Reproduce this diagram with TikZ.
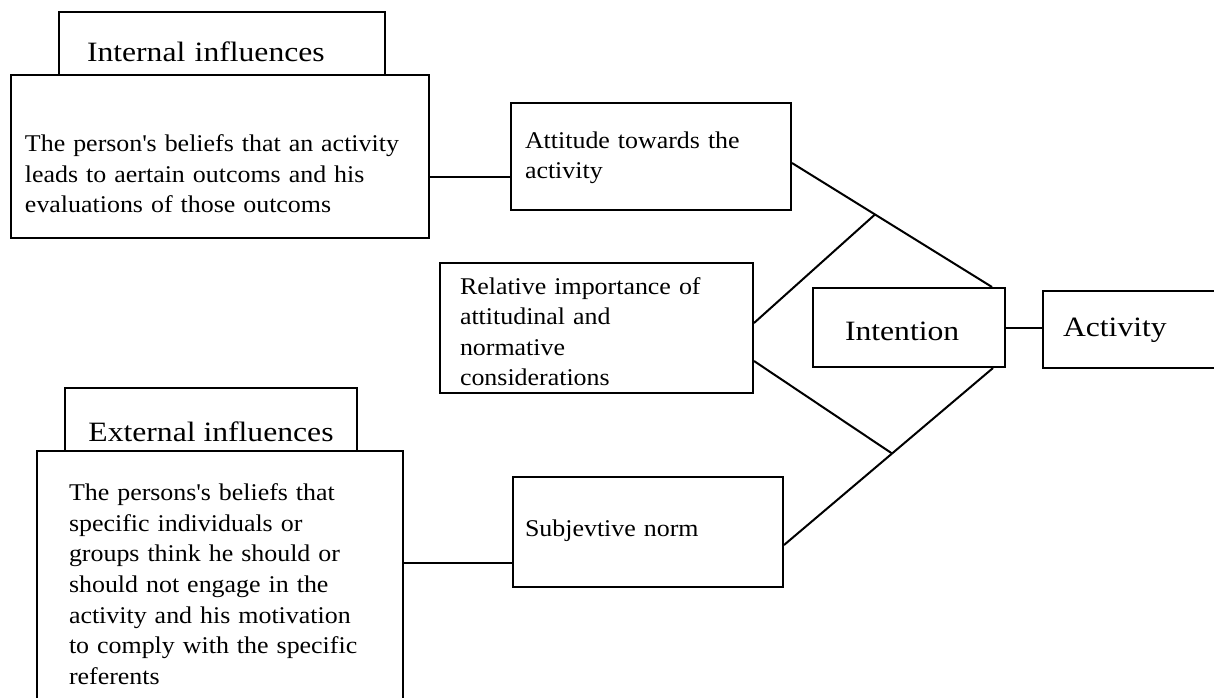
\documentclass[tikz,border=0pt]{standalone}
\usepackage{fontspec}
\setmainfont[FakeStretch=1.08]{Liberation Serif}
\newfontfamily\headfont[FakeStretch=1.13]{Liberation Serif}
\usetikzlibrary{calc}

\begin{document}
\begin{tikzpicture}[x=0.5pt, y=-0.5pt, line width=1pt,
    box/.style={draw, rectangle, inner ysep=0pt, align=left,
        font=\fontsize{12}{15.3}\selectfont},
    bigbox/.style={draw, rectangle, inner sep=0pt, align=center,
        font=\headfont\fontsize{14}{16.8}\selectfont}]
    % \draw[help lines] (0,0) grid[step=50] (1214,697);
    \useasboundingbox (0,0) rectangle (1214,697);

    \node[bigbox, inner xsep=14pt, text width=135pt, align=left, minimum height=31.5pt, text height=18.2pt, text depth=0pt] (inf) at (222,43.5) {Internal influences};
    \node[box, inner xsep=7pt, text width=195pt, minimum height=81.5pt, text height=4pt, text depth=8.8pt] (infbox) at (220,156.5) {The person\textquotesingle s beliefs that an activity\\ leads to aertain outcoms and his\\ evaluations of those outcoms};
    \node[box, inner xsep=7pt, text width=126pt, minimum height=53.5pt, text height=8pt, text depth=16.2pt] (att) at (651,156.5) {Attitude towards the\\ activity};
    \node[box, inner xsep=10pt, text width=136.5pt, minimum height=65pt, text height=8pt, text depth=42pt] (rel) at (596.5,328) {Relative importance of\\ attitudinal and\\ normative\\ considerations};
    \node[bigbox, inner xsep=16pt, text width=64pt, align=left, minimum height=39.5pt, text height=12.5pt, text depth=0pt] (intent) at (909,327.5) {Intention};
    \node[bigbox, inner xsep=10pt, text width=71pt, align=left, minimum height=38.5pt, text height=9.5pt, text depth=2.3pt] (act) at (1134,329.5) {Activity};

    \node[bigbox, minimum width=146pt, minimum height=31.5pt, text height=22.2pt, text depth=0pt] (ext) at (211,419.5) {External influences};
    \node[box, inner xsep=16pt, text width=151pt, minimum height=133.5pt, text height=8pt, text depth=91.8pt] (extbox) at (220,584.5) {The persons\textquotesingle s beliefs that\\ specific individuals or\\ groups think he should or\\ should not engage in the\\ activity and his motivation\\ to comply with the specific\\ referents};
    \node[box, inner xsep=6pt, text width=123pt, minimum height=55pt, text height=7.5pt, text depth=2.8pt] (subj) at (648,532) {Subjevtive norm};

    % connectors
    \coordinate (infout) at ([yshift=-10.25pt]infbox.east);
    \draw (infout) -- (infout -| att.west);
    \coordinate (extout) at ([yshift=-15.5pt]subj.west);
    \draw (extout) -- (extout -| extbox.east);
    \draw (intent.east) -- (intent.east -| act.west);

    \coordinate (attout) at ([yshift=-3.25pt]att.east);
    \coordinate (intin) at ([xshift=-7pt]intent.north east);
    \coordinate (intlow) at ([xshift=-6.5pt]intent.south east);
    \coordinate (subjout) at ([yshift=-6.5pt]subj.east);
    \draw (attout) -- (intin);
    \draw (intlow) -- (subjout);
    \draw ([yshift=2.5pt]rel.east) -- ($(attout)!0.415!(intin)$);
    \draw ([yshift=-16.5pt]rel.east) -- ($(intlow)!0.483!(subjout)$);
\end{tikzpicture}
\end{document}
